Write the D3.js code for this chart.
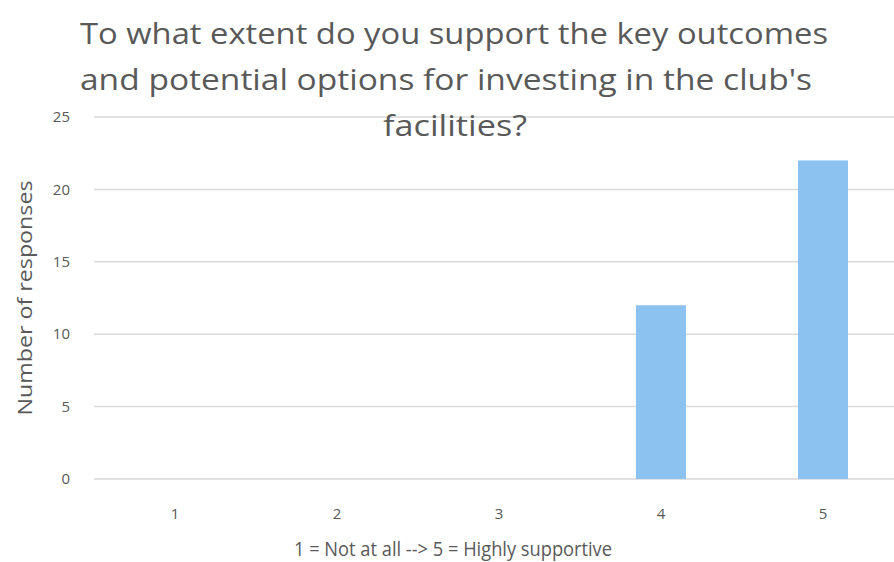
<!DOCTYPE html>
<html><head><meta charset="utf-8">
<script src="https://cdn.jsdelivr.net/npm/d3@7"></script>
<style>body{margin:0;background:#fff}svg{display:block}text{font-family:"Open Sans",Lato,sans-serif;fill:#595959}</style>
</head><body>
<script>
const categories = ["1","2","3","4","5"];
const values = [0,0,0,12,22];
const yTicks = [0,5,10,15,20,25];
const titleLines = ["To what extent do you support the key outcomes","and potential options for investing in the club's","facilities?"];
const xTitle = "1 = Not at all --> 5 = Highly supportive";
const yTitle = "Number of responses";

const W=894,H=562;
const svg=d3.select("body").append("svg").attr("width",W).attr("height",H);
const x=d3.scaleBand().domain(categories).range([94,904]).paddingInner(112/162).paddingOuter(56/162);
const y=d3.scaleLinear().domain([0,25]).range([479,117]);

// gridlines
svg.append("g").selectAll("line").data(yTicks).join("line")
  .attr("x1",94).attr("x2",W).attr("y1",d=>y(d)).attr("y2",d=>y(d))
  .attr("stroke","#d9d9d9").attr("stroke-width",1.5);

// bars
svg.append("g").selectAll("rect").data(values).join("rect")
  .attr("x",(d,i)=>x(categories[i])).attr("width",x.bandwidth())
  .attr("y",d=>y(d)).attr("height",d=>y(0)-y(d)).attr("fill","#8cc2f0");

// y tick labels
svg.append("g").selectAll("text").data(yTicks).join("text")
  .attr("x",70).attr("y",d=>y(d)).attr("dy","0.35em").attr("text-anchor","end")
  .attr("font-size",15).text(d=>d);

// x tick labels
svg.append("g").selectAll("text").data(categories).join("text")
  .attr("x",d=>x(d)+x.bandwidth()/2).attr("y",519).attr("text-anchor","middle")
  .attr("font-size",15).text(d=>d);

// axis titles
svg.append("text").attr("x",453).attr("y",556).attr("text-anchor","middle")
  .attr("font-size",20).attr("textLength",318).attr("lengthAdjust","spacingAndGlyphs").text(xTitle);
svg.append("text").attr("transform","translate(32,298) rotate(-90)").attr("text-anchor","middle")
  .attr("font-size",20).attr("textLength",235).attr("lengthAdjust","spacingAndGlyphs").text(yTitle);

// title
const tl=[748,732,144];
const tx=[454,446,455];
const ty=[44,90,136];
titleLines.forEach((t,i)=>{
  svg.append("text").attr("x",tx[i]).attr("y",ty[i]).attr("text-anchor","middle")
    .attr("font-size",30).attr("textLength",tl[i]).attr("lengthAdjust","spacingAndGlyphs").text(t);
});
</script>
</body></html>
